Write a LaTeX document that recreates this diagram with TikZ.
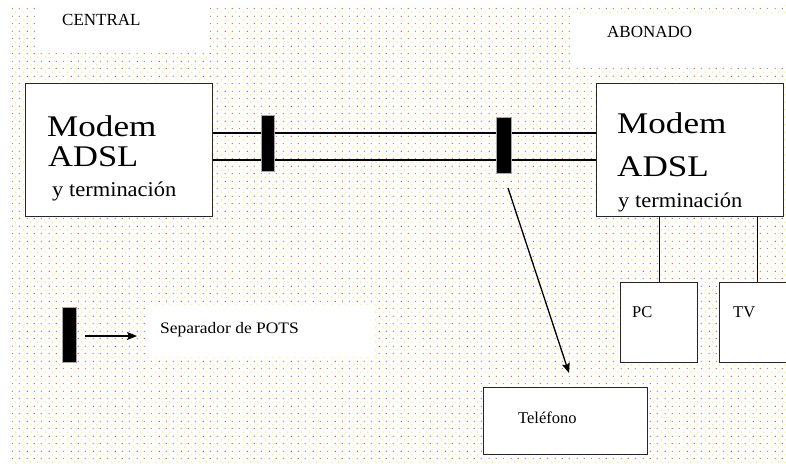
\documentclass[tikz,border=0pt]{standalone}
\usepackage{fontspec}
\setmainfont{Liberation Serif}
\usetikzlibrary{patterns,arrows.meta}
\definecolor{dotyel}{rgb}{1,0.95,0.15}
\definecolor{dotgray}{rgb}{0.58,0.58,0.58}
\definecolor{dotred}{rgb}{1,0.2,0.2}
\definecolor{border}{rgb}{0.15,0.15,0.15}
\pgfdeclarepatterninherentlycolored{adsldots}{\pgfpointorigin}{\pgfpoint{22pt}{14.67pt}}{\pgfpoint{22pt}{14.67pt}}{%
  \pgfsetfillcolor{dotyel}%
  \pgfpathcircle{\pgfpoint{1.83pt}{0.92pt}}{0.75pt}%
  \pgfpathcircle{\pgfpoint{9.17pt}{0.92pt}}{0.75pt}%
  \pgfpathcircle{\pgfpoint{16.5pt}{0.92pt}}{0.75pt}%
  \pgfpathcircle{\pgfpoint{1.83pt}{8.25pt}}{0.75pt}%
  \pgfpathcircle{\pgfpoint{9.17pt}{8.25pt}}{0.75pt}%
  \pgfpathcircle{\pgfpoint{16.5pt}{8.25pt}}{0.75pt}%
  \pgfusepath{fill}%
  \pgfsetfillcolor{dotgray}%
  \pgfpathcircle{\pgfpoint{5.5pt}{4.58pt}}{0.7pt}%
  \pgfpathcircle{\pgfpoint{20.17pt}{4.58pt}}{0.7pt}%
  \pgfpathcircle{\pgfpoint{12.83pt}{11.92pt}}{0.7pt}%
  \pgfpathcircle{\pgfpoint{20.17pt}{11.92pt}}{0.7pt}%
  \pgfusepath{fill}%
  \pgfsetfillcolor{dotred}%
  \pgfpathcircle{\pgfpoint{12.83pt}{4.58pt}}{0.7pt}%
  \pgfpathcircle{\pgfpoint{5.5pt}{11.92pt}}{0.7pt}%
  \pgfusepath{fill}%
}
\tikzset{
  box/.style={draw=border, line width=1.3pt, fill=white, rectangle, inner sep=0pt, anchor=north west},
  sepbox/.style={draw=gray!70, line width=0.6pt, fill=black, rectangle, inner sep=0pt, anchor=north west},
  wire/.style={line width=1.3pt, black},
  arr/.style={line width=1.3pt, black, -{Stealth[length=10pt,width=8pt,inset=2pt]}},
  big/.style={inner sep=0pt, anchor=base west, font=\fontsize{30}{36}\selectfont},
  mid/.style={inner sep=0pt, anchor=base west, font=\fontsize{21}{25}\selectfont, xscale=1.07},
  small/.style={inner sep=0pt, anchor=base west, font=\fontsize{16.5}{20}\selectfont},
}
\begin{document}
\begin{tikzpicture}[x=1pt,y=-1pt]
\useasboundingbox (0,0) rectangle (786,463);
% background
\fill[white] (0,0) rectangle (786,463);
\fill[pattern=adsldots] (12,5) rectangle (786,463);
\fill[white] (35,0) rectangle (210,53);
\fill[white] (570,15) rectangle (786,67);
\fill[white] (147,305) rectangle (372,357);
% boxes
\node[box, minimum width=187pt, minimum height=133pt] (cmL) at (25,83) {};
\node[box, minimum width=187pt, minimum height=133pt] (cmR) at (596,83) {};
\node[box, minimum width=164pt, minimum height=67pt] (tel) at (483,387) {};
\node[box, minimum width=77pt, minimum height=80pt] (pc) at (620,282) {};
\node[box, minimum width=76pt, minimum height=80pt] (tv) at (719,282) {};
% wires
\coordinate (ya) at (0,133);
\coordinate (yb) at (0,160);
\draw[wire] (cmL.east |- ya) -- (cmR.west |- ya);
\draw[wire] (cmL.east |- yb) -- (cmR.west |- yb);
\draw[wire] (pc.north) -- (pc.north |- cmR.south);
\draw[wire] (tv.north) -- (tv.north |- cmR.south);
% separators
\node[sepbox, minimum width=13pt, minimum height=56pt] (sep1) at (261,115) {};
\node[sepbox, minimum width=15pt, minimum height=56pt] (sep2) at (496,117) {};
\node[sepbox, minimum width=14pt, minimum height=55pt] (legsep) at (62,307) {};
% arrows
\coordinate (pa) at (508,188);
\coordinate (pb) at (569,373);
\draw[arr] (pa) -- (pb);
\coordinate (la) at (85,336);
\coordinate (lb) at (137,336);
\draw[arr] (la) -- (lb);
% texts
\node[small, font=\fontsize{17}{20}\selectfont] (tcentral) at (62,25) {CENTRAL};
\node[small, font=\fontsize{17}{20}\selectfont] (tabonado) at (607,37.5) {ABONADO};
\node[big, xscale=1.17] (tmodemL) at (47,136) {Modem};
\node[big, xscale=1.15] (tadslL) at (48,166.5) {ADSL};
\node[mid] (tterL) at (52,196.5) {y terminación};
\node[big, xscale=1.17] (tmodemR) at (617,133) {Modem};
\node[big, xscale=1.17] (tadslR) at (617,176.5) {ADSL};
\node[mid] (tterR) at (618,207) {y terminación};
\node[small, font=\fontsize{16}{20}\selectfont, xscale=1.09] (tsep) at (160,333) {Separador de POTS};
\node[small, font=\fontsize{16.5}{20}\selectfont] (ttel) at (518,423) {Teléfono};
\node[small] (tpc) at (632,317) {PC};
\node[small] (ttv) at (733,317) {TV};
\end{tikzpicture}
\end{document}
